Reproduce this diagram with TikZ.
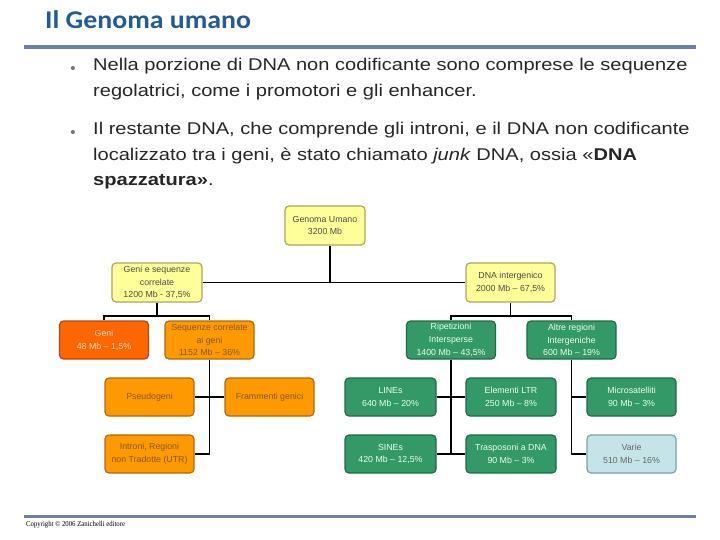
\documentclass[tikz,border=0pt]{standalone}
\usepackage{fontspec}
\setmainfont{Liberation Sans}
\newfontfamily\bulletfont[FakeStretch=1.18]{Liberation Sans}
\newfontfamily\titlefont[FakeStretch=1.09]{Carlito}
\newfontfamily\copyfont[FakeStretch=0.9]{Liberation Serif}
\definecolor{titleblue}{HTML}{1F5C99}
\definecolor{rulecol}{HTML}{6A7FAA}
\definecolor{yelfill}{HTML}{FFFF99}
\definecolor{yeldraw}{HTML}{A8A860}
\definecolor{redfill}{HTML}{FF6600}
\definecolor{reddraw}{HTML}{B04A10}
\definecolor{orfill}{HTML}{FF9900}
\definecolor{ordraw}{HTML}{B06A10}
\definecolor{grfill}{HTML}{339966}
\definecolor{grdraw}{HTML}{1F6B45}
\definecolor{blfill}{HTML}{C4E4E8}
\definecolor{bldraw}{HTML}{7F9FA3}
\begin{document}
\begin{tikzpicture}[x={(1pt,0)},y={(0,-1pt)},
  box/.style={rounded corners=4pt,line width=1.2pt,minimum width=89pt,minimum height=38pt,
    inner sep=1pt,align=center,font=\fontsize{8.8}{12.8}\selectfont},
  yel/.style={box,fill=yelfill,draw=yeldraw,text=black!70},
  red/.style={box,fill=redfill,draw=reddraw,text=orange!25},
  ora/.style={box,fill=orfill,draw=ordraw,text=brown!70!black},
  grn/.style={box,fill=grfill,draw=grdraw,text=green!8},
  blu/.style={box,fill=blfill,draw=bldraw,text=black!60},
  conn/.style={line width=1.8pt,black},
  dot/.style={inner sep=0pt,text=black!55,font=\fontsize{15}{15}\selectfont},
  bullet/.style={anchor=north west,align=left,inner sep=0pt,
    font=\bulletfont\fontsize{17}{25.5}\selectfont,text=black!85}]
\useasboundingbox (0,0) rectangle (720,540);
% title and rules
\node[anchor=west,inner sep=0pt,text=titleblue,font=\titlefont\bfseries\fontsize{25.5}{30}\selectfont] (title) at (45,20) {Il Genoma umano};
\fill[rulecol] (24,45.5) rectangle (696,49.5);
\fill[rulecol] (24,514.5) rectangle (696,518);
\node[anchor=west,inner sep=0pt,font=\copyfont\fontsize{7.5}{9}\selectfont] (copy) at (26,524.5) {Copyright \textcopyright{} 2006 Zanichelli editore};
% bullets
\node[dot] (b1) at (73,70.5) {\textbullet};
\node[bullet] (t1) at (93,58) {Nella porzione di DNA non codificante sono comprese le sequenze\\regolatrici, come i promotori e gli enhancer.};
\node[dot] (b2) at (73,134.5) {\textbullet};
\node[bullet] (t2) at (93,122) {Il restante DNA, che comprende gli introni, e il DNA non codificante\\localizzato tra i geni, è stato chiamato \textit{junk} DNA, ossia «\textbf{DNA}\\\textbf{spazzatura»}.};
% boxes
\node[yel,minimum width=80pt,minimum height=39pt] (gu) at (325,225.5) {Genoma Umano\\3200 Mb};
\node[yel,minimum width=90pt,minimum height=39pt] (gs) at (157,282.5) {Geni e sequenze\\correlate\\1200 Mb - 37,5\%};
\node[yel,minimum width=89pt,minimum height=39pt] (di) at (510.5,282.5) {DNA intergenico\\2000 Mb -- 67,5\%};
\node[red] (ge) at (104,340) {Geni\\48 Mb -- 1,5\%};
\node[ora] (sc) at (209.5,340) {Sequenze correlate\\ai geni\\1152 Mb -- 36\%};
\node[ora] (ps) at (149.5,397) {Pseudogeni};
\node[ora] (fg) at (269.5,397) {Frammenti genici};
\node[ora] (in) at (149.5,454) {Introni, Regioni\\non Tradotte (UTR)};
\node[grn] (ri) at (451,340) {Ripetizioni\\Intersperse\\1400 Mb -- 43,5\%};
\node[grn] (ar) at (571.5,340) {Altre regioni\\Intergeniche\\600 Mb -- 19\%};
\node[grn,minimum width=91pt] (li) at (390.5,397) {LINEs\\640 Mb -- 20\%};
\node[grn,minimum width=90pt] (lt) at (511,397) {Elementi LTR\\250 Mb -- 8\%};
\node[grn,minimum width=91pt] (si) at (390.5,454) {SINEs\\420 Mb -- 12,5\%};
\node[grn,minimum width=90pt] (tr) at (511,454) {Trasposoni a DNA\\90 Mb -- 3\%};
\node[grn] (mi) at (631.5,397) {Microsatelliti\\90 Mb -- 3\%};
\node[blu] (va) at (631.5,454) {Varie\\510 Mb -- 16\%};
% connectors
\coordinate (j0) at (330,282.5);
\draw[conn] (gs.east) -- (di.west);
\draw[conn] (gu.south -| j0) -- (j0);
\coordinate (j1) at (157,316);
\draw[conn] (gs.south) -- (j1);
\draw[conn] (ge.north) |- (j1) -| (sc.north);
\draw[conn] (sc.south) -- (sc.south |- in.east) -- (in.east);
\draw[conn] (ps.east) -- (fg.west);
\coordinate (j2) at (510.5,316);
\draw[conn] (di.south) -- (j2);
\draw[conn] (ri.north) |- (j2) -| (ar.north);
\draw[conn] (ri.south) -- (ri.south |- si.east);
\draw[conn] (li.east) -- (lt.west);
\draw[conn] (si.east) -- (tr.west);
\draw[conn] (ar.south) -- (ar.south |- va.west) -- (va.west);
\draw[conn] (ar.south |- mi.west) -- (mi.west);
\end{tikzpicture}
\end{document}
